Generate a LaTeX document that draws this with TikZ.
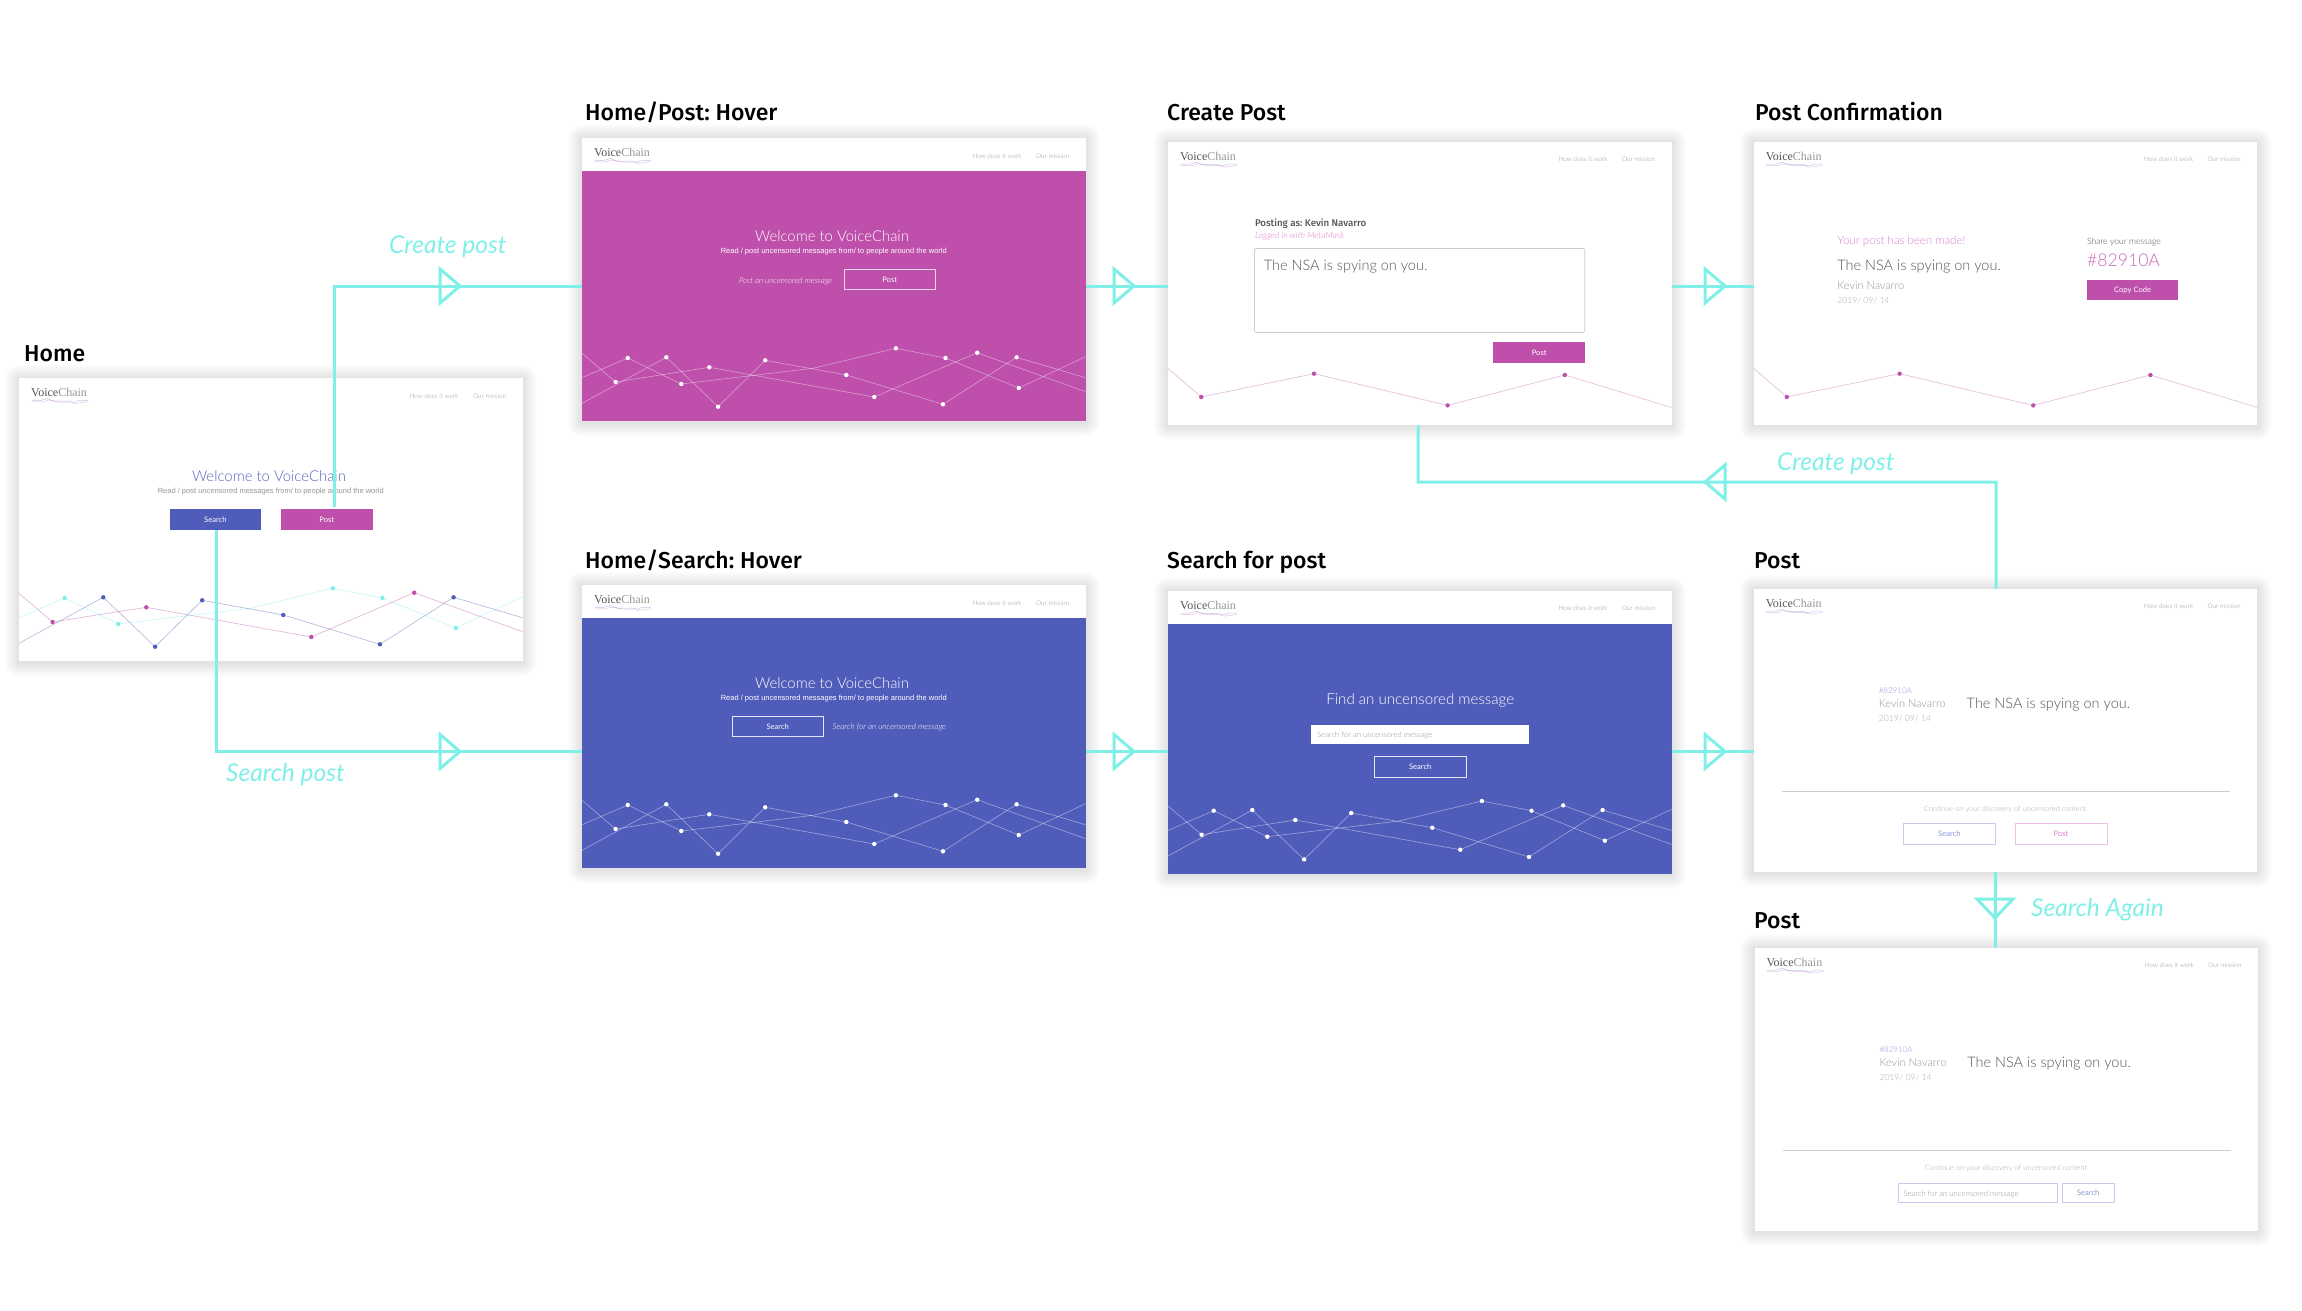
\documentclass[tikz,border=0pt]{standalone}
\usepackage{fontspec}
\setmainfont{Liberation Sans}
\newfontfamily\logof{Liberation Serif}
\newfontfamily\lightf[ItalicFont={Lato Light Italic}]{Lato Light}
\newfontfamily\labelf{Lato}
\newfontfamily\medf{Fira Sans Medium}
\newcommand\fz[1]{\fontsize{#1}{#1}\selectfont\frenchspacing}
\definecolor{vcmag}{HTML}{BE4FAA}
\definecolor{vcblue}{HTML}{505CBA}
\definecolor{vcteal}{HTML}{7EF0E8}
\definecolor{vctext}{HTML}{555555}
\definecolor{vcgrey}{HTML}{969696}
\definecolor{vcpale}{HTML}{ADADAD}
\definecolor{vcrule}{HTML}{CCCCD2}
\definecolor{vcpink}{HTML}{DB7FCB}
\definecolor{vclblue}{HTML}{8F97DC}
\tikzset{
  screenbox/.style={anchor=north west,inner sep=0,minimum width=503.5pt,minimum height=283pt,fill=white},
  title/.style={anchor=base west,inner sep=0,font=\medf\fz{23},text=black},
  flowlabel/.style={anchor=base west,inner sep=0,font=\labelf\itshape\fz{24.5},text=vcteal},
  flow/.style={draw=vcteal,line width=3pt},
  txt/.style={inner sep=0,anchor=west,yshift=-1pt},
  ctxt/.style={inner sep=0},
  navtext/.style={inner sep=0,font=\lightf\fz{6.4},text=vcgrey},
  btn/.style={inner sep=0,minimum height=20.5pt,minimum width=91.6pt,font=\labelf\fz{7.6},text=white},
  fieldbox/.style={inner sep=0,minimum height=19pt,rectangle},
  triR/.pic={\draw[flow,line join=miter] (-9,-17)--(11,0)--(-9,17)--cycle;},
  triL/.pic={\draw[flow,line join=miter] (9,-17)--(-11,0)--(9,17)--cycle;},
  triD/.pic={\draw[flow,line join=miter] (-18,-9)--(0,10)--(18,-9)--cycle;},
}
\newcommand\cardshadow[2]{%
  \foreach \r in {14,12,10,8,6,4,2}{%
    \fill[black,opacity=.014,rounded corners=\r pt] (#1-\r,#2-\r+1) rectangle (#1+503.5+\r,#2+283+\r+1);
  }%
}
\newcommand\chrome{%
  \node[txt,font=\logof\fz{12},yshift=1pt] (logo) at (12,14.5) {\textcolor{vctext}{Voice}\textcolor{vcgrey}{Chain}};
  \draw[vcblue,opacity=.35,line width=.5pt] (12.5,22.3)--(22,22.3)--(28,20.5)--(35,23)--(50,23)--(55,24.3)--(60,22.5)--(69,22.3);
  \draw[vcmag,opacity=.35,line width=.5pt] (12.5,23.8)--(24,23.8)--(30,22)--(40,24)--(52,24)--(56,25.5)--(69,23.8);
  \node[navtext] (nava) at (415,17.8) {How does it work};
  \node[navtext] (navb) at (470.6,17.8) {Our mission};
}
\newcommand\mesh[3]{%
  \draw[#1,line width=.6pt,opacity=.45] (0,215.3)--(33.6,244)--(127.3,229.3)--(292.3,259)--(395.2,214.7)--(503.5,253.7);
  \draw[#2,line width=.6pt,opacity=.45] (0,239.7)--(45.7,220)--(99.3,246)--(231,230.3)--(313.9,210.3)--(363.5,220)--(436.8,250)--(503.5,218.7);
  \draw[#3,line width=.6pt,opacity=.45] (0,265.3)--(84.3,219.3)--(136.1,268.7)--(183.2,222.3)--(264.3,237)--(361,266.3)--(434.6,219.3)--(503.5,239.7);
  \foreach \p in {(33.6,244),(127.3,229.3),(292.3,259),(395.2,214.7)} \fill[#1] \p circle (2.2);
  \foreach \p in {(45.7,220),(99.3,246),(313.9,210.3),(363.5,220),(436.8,250)} \fill[#2] \p circle (2.2);
  \foreach \p in {(84.3,219.3),(136.1,268.7),(183.2,222.3),(264.3,237),(361,266.3),(434.6,219.3)} \fill[#3] \p circle (2.2);
}
\newcommand\singlemesh{%
  \draw[vcmag,line width=.6pt,opacity=.4] (0,226.7)--(33.2,255.3)--(146,232)--(279.6,263.7)--(396.8,233.3)--(503.5,265.7);
  \foreach \p in {(33.2,255.3),(146,232),(279.6,263.7),(396.8,233.3)} \fill[vcmag] \p circle (2.2);
}
\newcommand\postbody{%
  \node[txt,font=\lightf\fz{8},text=vclblue] (code) at (125,101.3) {\#82910A};
  \node[txt,font=\lightf\fz{11},text=vcgrey] (author) at (125,113.7) {Kevin Navarro};
  \node[txt,font=\lightf\fz{8.6},text=vcpale] (date) at (125,129) {2019/ 09/ 14};
  \node[txt,font=\lightf\fz{14.5},text=vctext] (msg) at (212.9,115.3) {The NSA is spying on you.};
  \draw[vcrule,line width=.7pt] (28.6,202.7)--(476.4,202.7);
  \node[ctxt,font=\lightf\fz{7.4},text=vcpale] (cont) at (251.5,220.3) {Continue on your discovery of uncensored content};
}
\begin{document}
\begin{tikzpicture}[x=1pt,y=-1pt]
\useasboundingbox (0,0) rectangle (2302,1311);
\fill[white] (0,0) rectangle (2302,1311);
% shadows
\cardshadow{19}{378}\cardshadow{582}{138}\cardshadow{1168}{141.7}\cardshadow{1753.6}{141.7}
\cardshadow{582}{585}\cardshadow{1168}{590.7}\cardshadow{1753.6}{588.7}\cardshadow{1754.3}{947.7}
% titles
\node[title] (thome) at (24,361.5) {Home};
\node[title] (tposthover) at (585,120.7) {Home/Post: Hover};
\node[title] (tcreate) at (1167,120.7) {Create Post};
\node[title] (tconfirm) at (1755,120.7) {Post Confirmation};
\node[title] (tsearchhover) at (585,568.5) {Home/Search: Hover};
\node[title] (tsearch) at (1167,568.5) {Search for post};
\node[title] (tpost) at (1754,568.5) {Post};
\node[title] (tposttwo) at (1754,928.5) {Post};
% screens
\node[screenbox] (home) at (19,378) {};
\node[screenbox] (posthover) at (582,138) {};
\node[screenbox] (create) at (1168,141.7) {};
\node[screenbox] (confirm) at (1753.6,141.7) {};
\node[screenbox] (searchhover) at (582,585) {};
\node[screenbox] (search) at (1168,590.7) {};
\node[screenbox] (post) at (1753.6,588.7) {};
\node[screenbox] (posttwo) at (1754.3,947.7) {};
% Home
\begin{scope}[shift={(19,378)},name prefix=home-]
  \chrome
  \mesh{vcmag}{vcteal}{vcblue}
  \node[ctxt,font=\lightf\fz{14.9},text=vcblue!95!white] (welcome) at (250,98) {Welcome to VoiceChain};
  \node[ctxt,font=\fz{7.5},text=vcgrey] (sub) at (251.8,113.7) {Read / post uncensored messages from/ to people around the world};
  \node[btn,fill=vcblue] (search) at (196.4,141.6) {Search};
  \node[btn,fill=vcmag] (post) at (307.8,141.6) {Post};
\end{scope}
% Home/Post hover
\begin{scope}[shift={(582,138)},name prefix=ph-]
  \fill[vcmag] (0,33.2) rectangle (503.5,283);
  \chrome
  \mesh{white}{white}{white}
  \node[ctxt,font=\lightf\fz{14.9},text=white] (welcome) at (250,98) {Welcome to VoiceChain};
  \node[ctxt,font=\fz{7.5},text=white] (sub) at (251.8,113.7) {Read / post uncensored messages from/ to people around the world};
  \node[txt,font=\lightf\itshape\fz{8},text=white] (hint) at (156.8,142) {Post an uncensored message};
  \node[btn,draw=white!75!vcmag,line width=.8pt] (post) at (307.7,141.6) {Post};
\end{scope}
% Home/Search hover
\begin{scope}[shift={(582,585)},name prefix=sh-]
  \fill[vcblue] (0,33.3) rectangle (503.5,283);
  \chrome
  \mesh{white}{white}{white}
  \node[ctxt,font=\lightf\fz{14.9},text=white] (welcome) at (250,98) {Welcome to VoiceChain};
  \node[ctxt,font=\fz{7.5},text=white] (sub) at (251.8,113.7) {Read / post uncensored messages from/ to people around the world};
  \node[btn,draw=white!85!vcblue,line width=.8pt] (search) at (195.7,141.6) {Search};
  \node[txt,font=\lightf\itshape\fz{8.1},text=white] (hint) at (250.4,141.3) {Search for an uncensored message};
\end{scope}
% Create post
\begin{scope}[shift={(1168,141.7)},name prefix=cr-]
  \chrome
  \singlemesh
  \node[txt,font=\medf\fz{9.7},text=vctext] (as) at (86.8,81) {Posting as: Kevin Navarro};
  \node[txt,font=\lightf\itshape\fz{8.6},text=vcpink] (logged) at (86.8,93.7) {Logged in with MetaMask};
  \draw[vcrule,line width=.7pt,rounded corners=1.5pt] (86.4,106.7) rectangle (416.8,190.7);
  \node[txt,font=\lightf\fz{14.5},text=vctext] (msg) at (95.7,124) {The NSA is spying on you.};
  \node[btn,fill=vcmag] (post) at (371.2,210.8) {Post};
\end{scope}
% Post confirmation
\begin{scope}[shift={(1753.6,141.7)},name prefix=pc-]
  \chrome
  \singlemesh
  \node[txt,font=\lightf\fz{11.5},text=vcpink] (made) at (83.6,99) {Your post has been made!};
  \node[txt,font=\lightf\fz{14.5},text=vctext] (msg) at (83.6,123.7) {The NSA is spying on you.};
  \node[txt,font=\lightf\fz{11},text=vcgrey] (author) at (83.6,143.3) {Kevin Navarro};
  \node[txt,font=\lightf\fz{8.6},text=vcpale] (date) at (83.6,158.3) {2019/ 09/ 14};
  \node[txt,font=\lightf\fz{8.6},text=vctext] (share) at (333.2,99.3) {Share your message};
  \node[txt,font=\lightf\fz{17.6},text=vcmag!85!white] (code) at (333.4,118) {\#82910A};
  \node[btn,fill=vcmag] (copy) at (379,148.5) {Copy Code};
\end{scope}
% Search for post
\begin{scope}[shift={(1168,590.7)},name prefix=sp-]
  \fill[vcblue] (0,33.3) rectangle (503.5,283);
  \chrome
  \mesh{white}{white}{white}
  \node[ctxt,font=\lightf\fz{15.1},text=white] (find) at (252.2,110) {Find an uncensored message};
  \node[fieldbox,fill=white,minimum width=217.8pt] (field) at (252.1,144.2) {};
  \node[txt,font=\lightf\fz{7.7},text=vcgrey] (ph) at (149,144) {Search for an uncensored message};
  \node[btn,draw=white!85!vcblue,line width=.8pt] (btn) at (252.2,176) {Search};
\end{scope}
% Post
\begin{scope}[shift={(1753.6,588.7)},name prefix=po-]
  \chrome
  \postbody
  \node[btn,draw=vclblue!50!white,line width=.6pt,text=vclblue] (search) at (195.8,245.2) {Search};
  \node[btn,draw=vcpink!50!white,line width=.6pt,text=vcpink] (post) at (307.4,245.2) {Post};
\end{scope}
% Post, search again
\begin{scope}[shift={(1754.3,947.7)},name prefix=pt-]
  \chrome
  \postbody
  \node[fieldbox,draw=vclblue!50!white,line width=.6pt,minimum width=158.6pt] (field) at (223.2,245.2) {};
  \node[txt,font=\lightf\fz{7.7},text=vcgrey] (ph) at (149,245.2) {Search for an uncensored message};
  \node[fieldbox,draw=vclblue!50!white,line width=.6pt,minimum width=51.4pt,font=\labelf\fz{7.6},text=vclblue] (btn) at (333.9,245.2) {Search};
\end{scope}
% connectors
\draw[flow] ([xshift=8pt,yshift=2pt]home-post.north) |- ([yshift=-6.5pt]posthover.west);
\draw[flow] ([xshift=1pt]home-search.south) |- ([yshift=-25pt]searchhover.west);
\draw[flow] ([yshift=-6.5pt]posthover.east) -- ([yshift=-2.8pt]create.west);
\draw[flow] ([yshift=-2.8pt]create.east) -- ([yshift=-2.8pt]confirm.west);
\draw[flow] ([yshift=-25pt]searchhover.east) -- ([yshift=-19.3pt]search.west);
\draw[flow] ([yshift=-19.3pt]search.east) -- ([yshift=-21.3pt]post.west);
\draw[flow] ([xshift=-9.5pt]post.north) |- (1418,482) -- ([xshift=-1.7pt]create.south);
\draw[flow] ([xshift=-10pt]post.south) -- ([xshift=-11pt]posttwo.north);
% arrowheads
\path (449,286) pic {triR};
\path (449,751.5) pic {triR};
\path (1123,286) pic {triR};
\path (1123,751.5) pic {triR};
\path (1714,286) pic {triR};
\path (1714,751.5) pic {triR};
\path (1716,482) pic {triL};
\path (1995,908) pic {triD};
% labels
\node[flowlabel] (lcreate) at (389,253) {Create post};
\node[flowlabel] (lsearch) at (226,781.6) {Search post};
\node[flowlabel] (lcreateb) at (1777,470) {Create post};
\node[flowlabel] (lagain) at (2031,916) {Search Again};
\end{tikzpicture}
\end{document}
